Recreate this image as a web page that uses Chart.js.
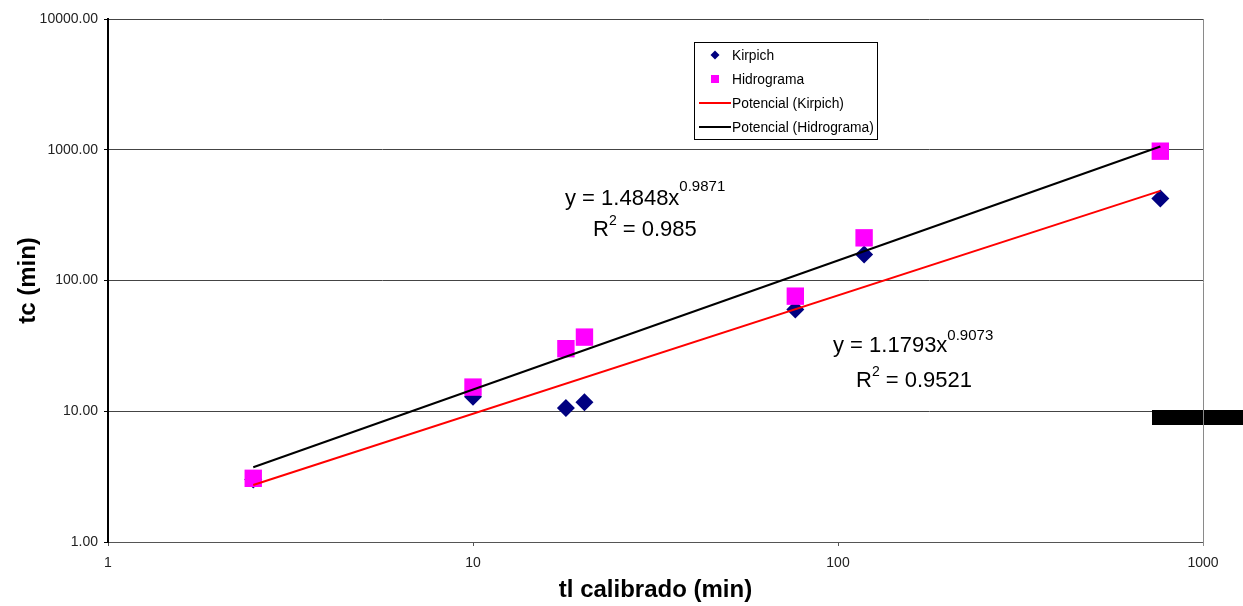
<!DOCTYPE html>
<html>
<head>
<meta charset="utf-8">
<title>tc vs tl calibrado</title>
<script src="https://cdn.jsdelivr.net/npm/chart.js@4"></script>
<style>
body { margin: 0; background: #fff; }
</style>
</head>
<body>
<canvas id="grafica" width="1243" height="606"></canvas>
<script>
// datos
var tlCalibrado = [2.5, 10.0, 17.97, 20.2, 76.4, 117.9, 764];
var tcKirpich = [3.0, 12.9, 10.6, 11.7, 59.9, 158, 423];
var tcHidrograma = [3.07, 15.3, 30.1, 36.9, 75.9, 212, 975];

// extremos de las lineas de tendencia (potencial)
var trendX = [2.5, 764];
var trendKirpich = [2.73, 485];
var trendHidrograma = [3.73, 1058];

var xTicks = [1, 10, 100, 1000];
var yTicks = [1, 10, 100, 1000, 10000];
var nombres = ["Kirpich", "Hidrograma", "Potencial (Kirpich)", "Potencial (Hidrograma)"];

var FUENTE = "'Liberation Sans', Arial, sans-serif";

function puntos(xs, ys) {
    var p = [];
    for (var i = 0; i < xs.length; i++) {
        p.push({ x: xs[i], y: ys[i] });
    }
    return p;
}

// texto con exponente
function textoSup(ctx, x, y, base, sup, resto, tam, tamSup, subida) {
    ctx.font = tam + "px " + FUENTE;
    ctx.fillText(base, x, y);
    var w = ctx.measureText(base).width;
    ctx.font = tamSup + "px " + FUENTE;
    ctx.fillText(sup, x + w, y - subida);
    var w2 = ctx.measureText(sup).width;
    if (resto) {
        ctx.font = tam + "px " + FUENTE;
        ctx.fillText(resto, x + w + w2, y);
    }
}

var ecuaciones = {
    id: "ecuaciones",
    afterDatasetsDraw: function (chart) {
        var ctx = chart.ctx;
        ctx.save();
        ctx.fillStyle = "#000";
        ctx.textBaseline = "alphabetic";
        ctx.textAlign = "left";
        textoSup(ctx, 565, 205, "y = 1.4848x", "0.9871", "", 22, 15, 14);
        textoSup(ctx, 593, 236, "R", "2", " = 0.985", 22, 14, 11);
        textoSup(ctx, 833, 352, "y = 1.1793x", "0.9073", "", 22, 15, 12);
        textoSup(ctx, 856, 387, "R", "2", " = 0.9521", 22, 14, 11);
        ctx.restore();
    }
};

var bordes = {
    id: "bordes",
    afterDraw: function (chart) {
        var ctx = chart.ctx;
        var area = chart.chartArea;
        ctx.save();
        // barra negra a la derecha
        ctx.fillStyle = "#000";
        ctx.fillRect(1152, 410, 91, 15);
        // borde derecho del area
        ctx.strokeStyle = "#8a8a8a";
        ctx.lineWidth = 1;
        ctx.beginPath();
        ctx.moveTo(Math.round(area.right) + 0.5, area.top);
        ctx.lineTo(Math.round(area.right) + 0.5, area.bottom + 4);
        ctx.stroke();
        ctx.restore();
    }
};

var leyenda = {
    id: "leyenda",
    afterDraw: function (chart) {
        var ctx = chart.ctx;
        var ds = chart.data.datasets;
        ctx.save();
        ctx.fillStyle = "#fff";
        ctx.fillRect(694.5, 42.5, 183, 97);
        ctx.strokeStyle = "#000";
        ctx.lineWidth = 1;
        ctx.strokeRect(694.5, 42.5, 183, 97);
        ctx.font = "13.8px " + FUENTE;
        ctx.textBaseline = "middle";
        for (var i = 0; i < ds.length; i++) {
            var y = 55 + i * 24;
            if (ds[i].showLine === false) {
                ctx.fillStyle = ds[i].backgroundColor;
                ctx.beginPath();
                if (ds[i].pointStyle === "rectRot") {
                    ctx.moveTo(715, y - 4.5);
                    ctx.lineTo(719.5, y);
                    ctx.lineTo(715, y + 4.5);
                    ctx.lineTo(710.5, y);
                } else {
                    ctx.rect(711, y - 4, 8, 8);
                }
                ctx.fill();
            } else {
                ctx.strokeStyle = ds[i].borderColor;
                ctx.lineWidth = 2;
                ctx.beginPath();
                ctx.moveTo(699, y);
                ctx.lineTo(731, y);
                ctx.stroke();
            }
            ctx.fillStyle = "#000";
            ctx.fillText(ds[i].label, 732, y + 1);
        }
        ctx.restore();
    }
};

var miCanvas = document.getElementById("grafica").getContext("2d");

var chart = new Chart(miCanvas, {
    type: "scatter",
    data: {
        datasets: [
            {
                label: nombres[0],
                data: puntos(tlCalibrado, tcKirpich),
                showLine: false,
                pointStyle: "rectRot",
                pointRadius: 9,
                backgroundColor: "#000080",
                borderColor: "#000080",
                borderWidth: 0,
                order: 3
            },
            {
                label: nombres[1],
                data: puntos(tlCalibrado, tcHidrograma),
                showLine: false,
                pointStyle: "rect",
                pointRadius: 12.3,
                backgroundColor: "#ff00ff",
                borderColor: "#ff00ff",
                borderWidth: 0,
                order: 2
            },
            {
                type: "line",
                label: nombres[2],
                data: puntos(trendX, trendKirpich),
                borderColor: "#ff0000",
                borderWidth: 2,
                pointRadius: 0,
                fill: false,
                order: 1
            },
            {
                type: "line",
                label: nombres[3],
                data: puntos(trendX, trendHidrograma),
                borderColor: "#000000",
                borderWidth: 2,
                pointRadius: 0,
                fill: false,
                order: 0
            }
        ]
    },
    options: {
        responsive: false,
        animation: false,
        devicePixelRatio: 1,
        layout: { padding: { left: 0, right: 40, top: 19, bottom: 0 } },
        plugins: {
            legend: { display: false },
            tooltip: { enabled: false }
        },
        scales: {
            x: {
                type: "logarithmic",
                min: 1,
                max: 1000,
                afterBuildTicks: function (axis) {
                    axis.ticks = xTicks.map(function (v) { return { value: v }; });
                },
                afterFit: function (s) { s.height = 64; },
                ticks: {
                    color: "#222",
                    font: { family: FUENTE, size: 14 },
                    padding: 9,
                    maxRotation: 0,
                    callback: function (v) { return String(v); }
                },
                grid: {
                    drawOnChartArea: false,
                    drawTicks: true,
                    tickLength: 4,
                    tickColor: "#555"
                },
                border: { color: "#555", width: 1 },
                title: {
                    display: true,
                    text: "tl calibrado (min)",
                    color: "#000",
                    font: { family: FUENTE, size: 24, weight: "bold" },
                    padding: { top: 0, bottom: 1 }
                }
            },
            y: {
                type: "logarithmic",
                min: 1,
                max: 10000,
                afterBuildTicks: function (axis) {
                    axis.ticks = yTicks.map(function (v) { return { value: v }; });
                },
                afterFit: function (s) { s.width = 108; },
                ticks: {
                    color: "#222",
                    font: { family: FUENTE, size: 14 },
                    padding: 6,
                    callback: function (v) { return Number(v).toFixed(2); }
                },
                grid: {
                    color: "#444",
                    lineWidth: 1,
                    drawTicks: true,
                    tickLength: 4,
                    tickColor: "#000"
                },
                border: { color: "#000", width: 2 },
                title: {
                    display: true,
                    text: "tc (min)",
                    color: "#000",
                    font: { family: FUENTE, size: 24, weight: "bold" },
                    padding: { top: 14, bottom: 0 }
                }
            }
        }
    },
    plugins: [ecuaciones, bordes, leyenda]
});
</script>
</body>
</html>
